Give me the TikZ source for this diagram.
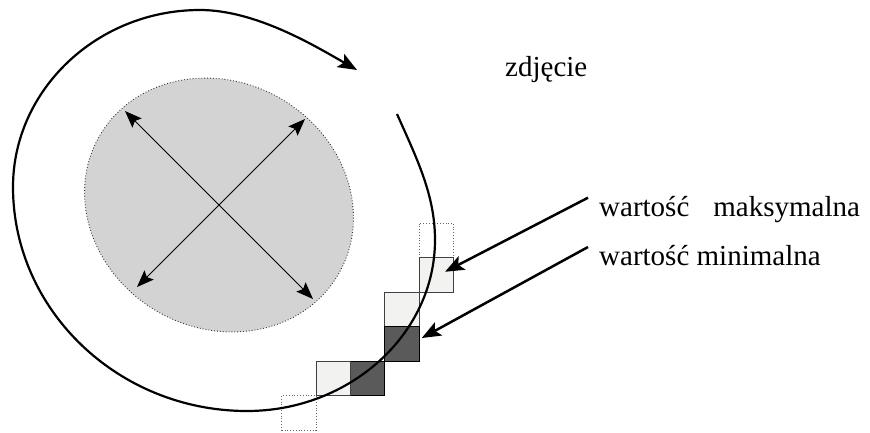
\documentclass[tikz,border=0pt]{standalone}
\usepackage{fontspec}
\setmainfont{Liberation Serif}
\usetikzlibrary{arrows.meta,calc,shapes.geometric}
\definecolor{lightsq}{HTML}{F2F2F0}
\definecolor{darksq}{HTML}{5A5A5A}
\definecolor{ellfill}{HTML}{D3D3D3}
\tikzset{
  sq/.style={rectangle,inner sep=0pt,minimum width=34.3pt,minimum height=34.5pt},
  lightbox/.style={sq,fill=lightsq,draw=black!75,line width=0.8pt},
  darkbox/.style={sq,fill=darksq,draw=black,line width=0.8pt},
  emptybox/.style={sq,draw=black!60,dotted,line width=0.8pt},
  lbl/.style={inner sep=0pt,anchor=base west,font=\fontsize{29}{34}\selectfont},
  leader/.style={line width=2.5pt,-{Stealth[length=19pt,width=15pt,inset=4pt]}},
  dbl/.style={line width=1pt,{Stealth[length=17pt,width=13pt,inset=3pt]}-{Stealth[length=17pt,width=13pt,inset=3pt]}},
  orbit/.style={line width=2.2pt,-{Stealth[length=19pt,width=15pt,inset=4pt]}}
}
\begin{document}
\begin{tikzpicture}[x=1pt,y=-1pt]
\useasboundingbox (0,0) rectangle (870,432);
% spot
\node[ellipse,fill=ellfill,draw=black!80,dotted,line width=0.9pt,
      minimum width=276pt,minimum height=246pt,inner sep=0pt,rotate=-30] (spot) at (219,205) {};
% diameter arrows
\coordinate (a1) at (125,111);
\coordinate (a2) at (313,299);
\coordinate (b1) at (305,119);
\coordinate (b2) at (137,287);
\draw[dbl] (a1) -- (a2);
\draw[dbl] (b1) -- (b2);
% pixel squares
\node[emptybox] (e1) at (436.05,240.25) {};
\node[lightbox] (smax) at (436.05,274.75) {};
\node[lightbox] (l2) at (401.75,309.25) {};
\node[darkbox] (dmin) at (401.75,343.75) {};
\node[darkbox] (d2) at (367.45,378.25) {};
\node[lightbox] (l3) at (333.15,378.25) {};
\node[emptybox] (e2) at (298.85,412.75) {};
% orbit curve
\coordinate (o0) at (397,114);
\coordinate (o1) at (435,240);
\coordinate (o2) at (247,411);
\coordinate (o3) at (13,187);
\coordinate (o4) at (200,10);
\coordinate (o5) at (357,70);
\draw[orbit] (o0) .. controls (417,159) and (435,195) .. (o1)
  .. controls (435,334) and (350,411) .. (o2)
  .. controls (118,411) and (13,310) .. (o3)
  .. controls (13,90) and (97,10) .. (o4)
  .. controls (255,10) and (313.5,45) .. (o5);
% labels
\node[lbl] (photo) at (505,76.7) {zdjęcie};
\node[lbl] (lmax) at (599,216.7) {wartość\hspace{24pt}maksymalna};
\node[lbl] (lmin) at (599,265) {wartość minimalna};
% leaders
\draw[leader] ($(lmax.base west)+(-11,-19)$) -- ($(smax.center)+(9,-3)$);
\draw[leader] ($(lmin.base west)+(-11,-18)$) -- ($(dmin.east)+(2.5,-5.75)$);
\end{tikzpicture}
\end{document}
